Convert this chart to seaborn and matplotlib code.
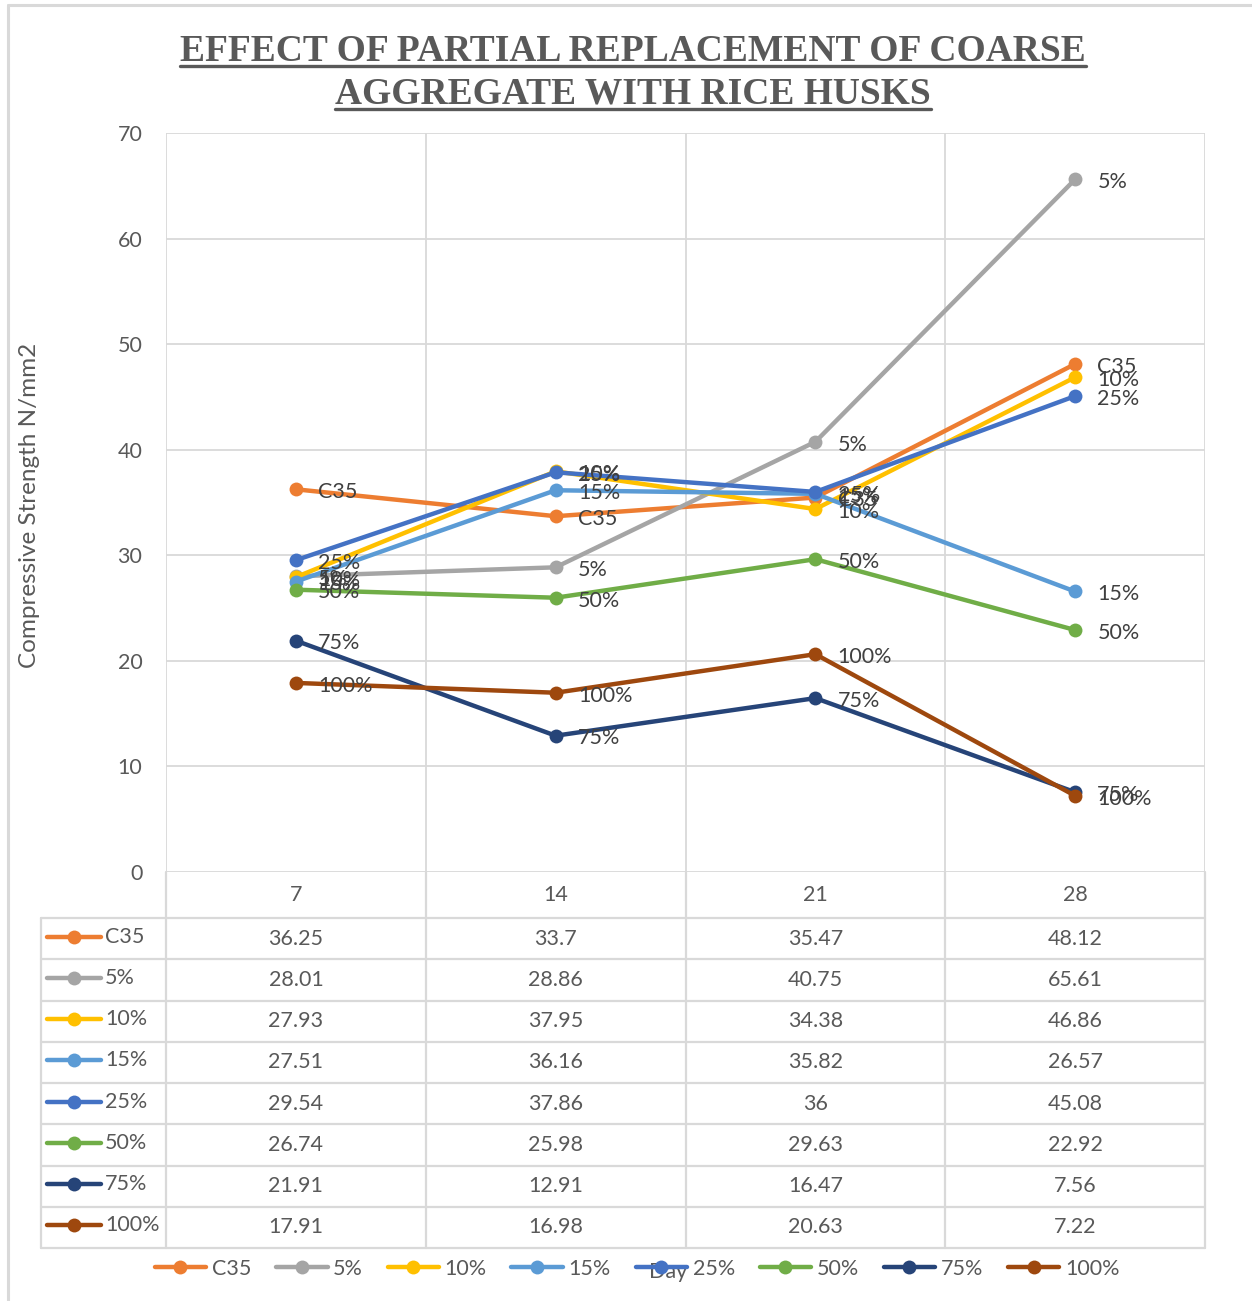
import numpy as np
import pandas as pd
import matplotlib
matplotlib.use("Agg")
import matplotlib.pyplot as plt
from matplotlib.lines import Line2D
import seaborn as sns

# chart data
days = ["7", "14", "21", "28"]
series = ["C35", "5%", "10%", "15%", "25%", "50%", "75%", "100%"]
c35 = [36.25, 33.7, 35.47, 48.12]
p5 = [28.01, 28.86, 40.75, 65.61]
p10 = [27.93, 37.95, 34.38, 46.86]
p15 = [27.51, 36.16, 35.82, 26.57]
p25 = [29.54, 37.86, 36, 45.08]
p50 = [26.74, 25.98, 29.63, 22.92]
p75 = [21.91, 12.91, 16.47, 7.56]
p100 = [17.91, 16.98, 20.63, 7.22]
values = [c35, p5, p10, p15, p25, p50, p75, p100]
colors = ["#ED7D31", "#A5A5A5", "#FFC000", "#5B9BD5", "#4472C4", "#70AD47", "#264478", "#9E480E"]

title = "EFFECT OF PARTIAL REPLACEMENT OF COARSE\nAGGREGATE WITH RICE HUSKS"
ylabel = "Compressive Strength N/mm2"
xlabel = "Day"

rows = []
for name, vals in zip(series, values):
    for i, v in enumerate(vals):
        rows.append({"series": name, "pos": i, "day": days[i], "value": v})
df = pd.DataFrame(rows)

sns.set_theme(style="white")
plt.rcParams["font.family"] = ["Lato", "DejaVu Sans"]
TXT = "#595959"
LBL = "#404040"
GRID = "#D9D9D9"
FS = 15.5

W, H = 1252, 1301
fig = plt.figure(figsize=(W / 100, H / 100), dpi=100)
fig.patch.set_facecolor("white")


def px_rect(x0, y0, x1, y1):
    return [x0 / W, 1 - y1 / H, (x1 - x0) / W, (y1 - y0) / H]


# main plot
ax = fig.add_axes(px_rect(166, 133, 1205, 872))
sns.lineplot(data=df, x="pos", y="value", hue="series", hue_order=series,
             palette=colors, marker="o", markersize=10, markeredgewidth=0,
             linewidth=3.2, sort=False, legend=False, ax=ax)
ax.set_xlim(-0.5, 3.5)
ax.set_ylim(0, 70)
ax.set_yticks(range(0, 71, 10))
ax.set_xticks([])
ax.set_xticks(np.arange(-0.5, 4, 1), minor=True)
ax.grid(True, which="major", axis="y", color=GRID, linewidth=1.3)
ax.grid(True, which="minor", axis="x", color=GRID, linewidth=1.3)
ax.tick_params(axis="y", length=0, pad=17, labelsize=FS, labelcolor=TXT)
ax.tick_params(axis="x", which="both", length=0)
for s in ax.spines.values():
    s.set_visible(False)
ax.set_xlabel("")
ax.set_ylabel("")

# data labels
for name, vals in zip(series, values):
    for i, v in enumerate(vals):
        ax.annotate(name, (i, v), xytext=(16, -2), textcoords="offset points",
                    ha="left", va="center", fontsize=FS, color=LBL, clip_on=False)

# data table under the plot
hdr = 46
rowh = 41.25
tab_bottom = hdr + rowh * len(series)
xleft = -0.5 - 125 / 259.75
tab = fig.add_axes(px_rect(41, 872, 1205, 872 + tab_bottom))
tab.set_xlim(xleft, 3.5)
tab.set_ylim(tab_bottom, 0)
tab.axis("off")
for k in range(len(series) + 1):
    tab.plot([xleft, 3.5], [hdr + k * rowh] * 2, color=GRID, lw=1.6, clip_on=False)
for xb in np.arange(-0.5, 4, 1):
    tab.plot([xb, xb], [0, tab_bottom], color=GRID, lw=1.6, clip_on=False)
tab.plot([xleft, xleft], [hdr, tab_bottom], color=GRID, lw=1.6, clip_on=False)
for i, d in enumerate(days):
    tab.text(i, hdr / 2, d, ha="center", va="center", fontsize=FS, color=TXT)
for r, vals in enumerate(values):
    yc = hdr + rowh * (r + 0.5)
    for i, v in enumerate(vals):
        tab.text(i, yc, f"{v:g}", ha="center", va="center", fontsize=FS, color=TXT)

# legend keys in first column
key = fig.add_axes(px_rect(41, 872, 166, 872 + tab_bottom))
key.set_xlim(41, 166)
key.set_ylim(tab_bottom, 0)
key.axis("off")
for r, (name, col) in enumerate(zip(series, colors)):
    yc = hdr + rowh * (r + 0.5) - 2
    key.plot([47, 74, 101], [yc] * 3, color=col, lw=3.2, marker="o", markersize=10,
             markeredgewidth=0, markevery=[1], solid_capstyle="round", clip_on=False)
    key.text(105, yc, name, ha="left", va="center", fontsize=FS, color=TXT)

# bottom legend
handles = [Line2D([0], [0], color=c, lw=3.2, marker="o", markersize=10,
                  markeredgewidth=0) for c in colors]
leg = fig.legend(handles, series, loc="center", bbox_to_anchor=(637 / W, 1 - 1269 / H),
                 ncol=8, frameon=False, fontsize=FS, handlelength=2.4,
                 handletextpad=0.25, columnspacing=1.15, labelcolor=TXT)

# axis titles
fig.text(668 / W, 1 - 1272 / H, xlabel, ha="center", va="center", fontsize=FS, color=TXT)
fig.text(30 / W, 1 - 505 / H, ylabel, ha="center", va="center", rotation=90,
         fontsize=17.5, color=TXT)

# title with underline
lines = title.split("\n")
baselines = [61, 104]
renderer = fig.canvas.get_renderer()
for ln, yb in zip(lines, baselines):
    t = fig.text(633 / W, 1 - yb / H, ln, ha="center", va="baseline", fontsize=27,
                 fontweight="bold", family=["Liberation Serif", "DejaVu Serif"], color=TXT)
    bb = t.get_window_extent(renderer)
    uy = 1 - (yb + 5) / H
    fig.add_artist(Line2D([bb.x0 / W, bb.x1 / W], [uy, uy], color=TXT, lw=2.4))

# outer frame (top and left edge)
fig.add_artist(Line2D([8 / W, 1], [1 - 5 / H, 1 - 5 / H], color=GRID, lw=2.2))
fig.add_artist(Line2D([8 / W, 8 / W], [0, 1 - 5 / H], color=GRID, lw=2.2))

fig.savefig("out.png", dpi=100, facecolor="white")
